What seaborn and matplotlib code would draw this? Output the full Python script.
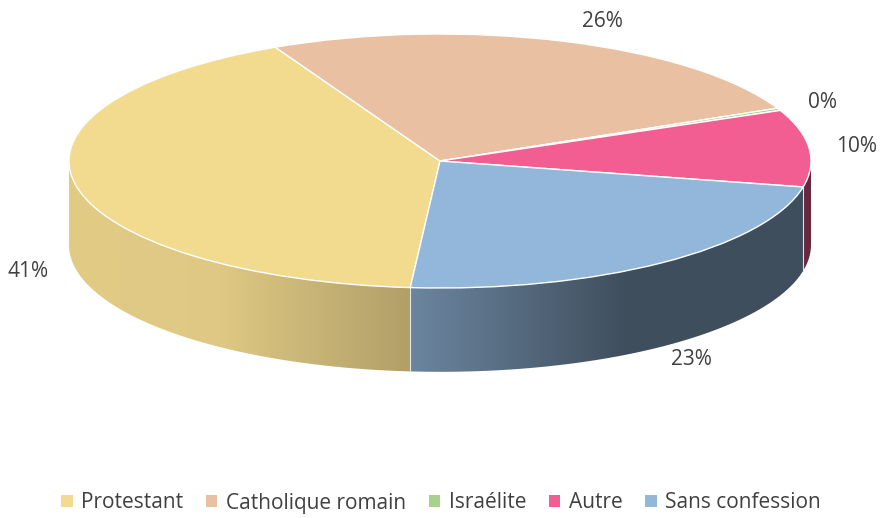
import numpy as np
import matplotlib
matplotlib.use("Agg")
import matplotlib.pyplot as plt
from matplotlib.patches import Patch, Polygon
import seaborn as sns

categories = ["Protestant", "Catholique romain", "Israélite", "Autre", "Sans confession"]
values = [41.4, 25.5, 0.3, 9.8, 23.0]
colors = ["#F2DA8F", "#E9C0A2", "#A9D18E", "#F35E92", "#93B7DA"]

sns.set_style("white")
plt.rcParams["font.family"] = ["Open Sans", "DejaVu Sans"]

W, H = 882, 518
fig = plt.figure(figsize=(W / 100, H / 100), dpi=100)

cx, cy, a, b = 440, 161, 371, 127
ylo, yhi = -1.9, 1.25
ax = fig.add_axes([(cx - a) / W, (H - (cy - ylo * b)) / H, 2 * a / W, (yhi - ylo) * b / H])

start = 265.4
depth = 0.66

# top face
wedges, _ = ax.pie(values, colors=colors, startangle=start, counterclock=False, radius=1,
                   wedgeprops=dict(edgecolor="white", linewidth=1.0))
for w in wedges:
    w.set_zorder(3)


def shade(x):
    return np.interp(x, [-1, -0.6, -0.08, 0.5, 1], [0.93, 0.92, 0.73, 0.43, 0.43])


total = float(sum(values))
xs = np.linspace(-1, 1, 1000)
bounds = []
t = start
for v, c in zip(values, colors):
    t2 = t - 360 * v / total
    lo, hi = t2 % 360, (t2 % 360) + (t - t2)
    base = np.array(matplotlib.colors.to_rgb(c))
    for off in (-360, 0, 360):
        s0 = max(lo + off, 180)
        s1 = min(hi + off, 360)
        if s1 > s0:
            th = np.radians(np.linspace(s0, s1, 200))
            top = np.column_stack([np.cos(th), np.sin(th)])
            bot = np.column_stack([np.cos(th[::-1]), np.sin(th[::-1]) - depth])
            poly = Polygon(np.vstack([top, bot]), closed=True, facecolor="none",
                           edgecolor="none", transform=ax.transData)
            ax.add_patch(poly)
            img = (base[None, None, :] * shade(xs)[None, :, None]).clip(0, 1)
            img = np.repeat(img, 2, axis=0)
            im = ax.imshow(img, extent=(-1, 1, -1 - depth - 0.05, 0.05), aspect="auto",
                           zorder=1, interpolation="bilinear")
            im.set_clip_path(poly)
    bounds.append(t2)
    t = t2

# light separation lines on the front side
for bd in bounds:
    ang = np.radians(bd % 360)
    if np.sin(ang) < -0.05:
        ax.plot([np.cos(ang), np.cos(ang)], [np.sin(ang), np.sin(ang) - depth],
                color="#DDE3E8", lw=0.8, zorder=2, clip_on=False)

ax.set_aspect("auto")
ax.set_xlim(-1, 1)
ax.set_ylim(ylo, yhi)
ax.axis("off")

# labels
t = start
for v, c in zip(values, colors):
    t2 = t - 360 * v / total
    mid = np.radians((t + t2) / 2)
    r = 1.13
    x, y = r * np.cos(mid), r * np.sin(mid)
    if np.sin(mid) < 0:
        y -= depth
    if np.sin(mid) > 0.6:
        x += 0.06
        y += 0.03
    ax.text(x, y, f"{round(100 * v / total):.0f}%", ha="center", va="center",
            fontsize=15, color="#404040", clip_on=False, zorder=5)
    t = t2

handles = [Patch(facecolor=c, edgecolor="none", label=l) for c, l in zip(colors, categories)]
fig.legend(handles=handles, loc="center", bbox_to_anchor=(0.5, 1 - 503 / H), ncol=5,
           frameon=False, fontsize=15, handlelength=0.55, handleheight=0.55,
           handletextpad=0.4, columnspacing=1.1, labelcolor="#404040")

fig.savefig("out.png", dpi=100)
